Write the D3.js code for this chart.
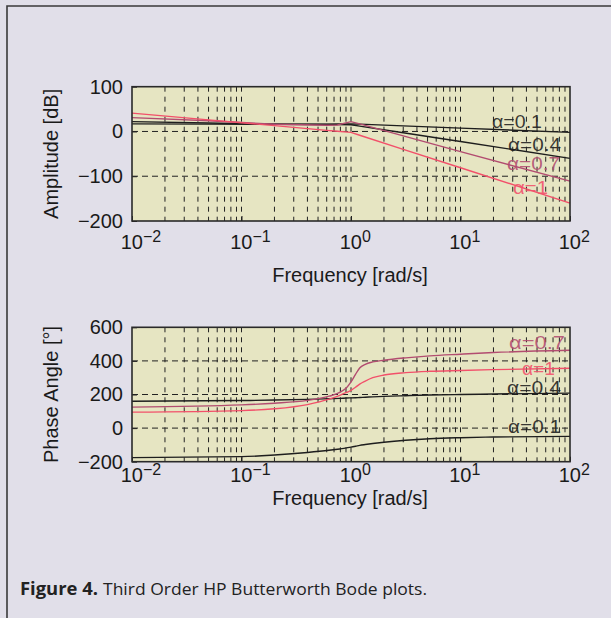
<!DOCTYPE html>
<html><head><meta charset="utf-8">
<script src="https://cdn.jsdelivr.net/npm/d3@7"></script>
<style>
html,body{margin:0;padding:0;background:#e1dfe9;}
svg{display:block;}
text{font-family:"Liberation Sans",Arial,Helvetica,sans-serif;fill:#1a1a1a;}
</style></head>
<body>
<svg id="chart" width="611" height="618"></svg>
<script>
// ---------- data ----------
const seriesNames = ["α=0.1", "α=0.4", "α=0.7", "α=1"];
const seriesColors = ["#1e1e1e", "#1e1e1e", "#b24c70", "#f2506a"];

// amplitude (dB)
const ampFreq = [0.01, 0.05, 0.2, 0.6, 0.75, 1, 1.2, 3, 10, 100];
const amp01 = [17, 16.5, 16, 16.5, 16.8, 17, 16.3, 12.5, 7.5, -2];
const amp04 = [22, 19, 16, 15.5, 15.3, 15, 12, -3, -22.5, -60];
const amp07 = [31, 24, 16, 14, 14.5, 22, 16.8, -10, -45, -111];
const amp10 = [41, 26, 13, 2.5, 0.5, -2, -8.5, -40, -81, -160];

// phase (degrees)
const phaseFreq = [0.01, 0.1, 0.2, 0.4, 0.63, 0.79, 0.91, 1, 1.1, 1.2, 1.35, 1.58, 2, 3.16, 5.25, 10, 20, 100];
const ph01 = [-176, -170, -160, -145, -132, -124, -118, -113, -108, -103, -98, -92, -84, -72, -63, -57, -53, -49];
const ph04 = [160, 164, 167, 171, 175, 177, 179, 180, 181, 182, 184, 186, 189, 193, 197, 200, 203, 208];
const ph07 = [125, 138, 148, 165, 190, 212, 240, 275, 320, 358, 380, 394, 404, 418, 430, 440, 450, 463];
const ph10 = [95, 104, 115, 140, 172, 195, 212, 225, 243, 262, 280, 300, 316, 330, 338, 343, 348, 356];

// ticks
const xTickExp = [-2, -1, 0, 1, 2];
const ampTicks = [100, 0, -100, -200];
const phaseTicks = [600, 400, 200, 0, -200];

// ---------- layout ----------
const svg = d3.select("#chart");
const L = 132, R = 570;
const panels = [
  {top: 86.7, bottom: 221, domain: [-200, 100], ticks: ampTicks, freq: ampFreq,
   vals: [amp01, amp04, amp07, amp10], ylabel: "Amplitude [dB]", curve: d3.curveLinear,
   tickY: 28, titleY: 61,
   labels: [{i:0,x:492,y:128,w:50},{i:1,x:508,y:151,w:53},{i:2,x:507,y:170,w:53},{i:3,x:513,y:193.5,w:35}]},
  {top: 327.3, bottom: 461.7, domain: [-200, 600], ticks: phaseTicks, freq: phaseFreq,
   vals: [ph01, ph04, ph07, ph10], ylabel: "Phase Angle [°]", curve: d3.curveMonotoneX,
   tickY: 20, titleY: 43,
   labels: [{i:2,x:509,y:349,w:56},{i:3,x:522,y:375,w:33},{i:1,x:507,y:393.5,w:54},{i:0,x:508,y:432.5,w:53}]}
];

// outer frame
svg.append("path").attr("d", "M7,630 L7,6 L620,6").attr("fill", "none")
  .attr("stroke", "#3a3a3a").attr("stroke-width", 1.6);

const x = d3.scaleLog().domain([0.01, 100]).range([L, R]);
const minorVals = [];
for (let e = -2; e < 2; e++) for (let m = 1; m <= 9; m++) {
  const v = m * Math.pow(10, e);
  if (v > 0.01) minorVals.push(v);
}

panels.forEach(p => {
  const y = d3.scaleLinear().domain(p.domain).range([p.bottom, p.top]);
  const g = svg.append("g");
  g.append("rect").attr("x", L).attr("y", p.top).attr("width", R - L).attr("height", p.bottom - p.top)
    .attr("fill", "#e6e5c2");
  // vertical grid
  g.selectAll("line.vg").data(minorVals.filter(v => v < 100)).enter().append("line")
    .attr("x1", d => x(d)).attr("x2", d => x(d)).attr("y1", p.top).attr("y2", p.bottom)
    .attr("stroke", "#222").attr("stroke-width", 1).attr("stroke-dasharray", "5,5");
  // horizontal grid
  g.selectAll("line.hg").data(p.ticks.filter(t => t !== p.domain[0] && t !== p.domain[1])).enter().append("line")
    .attr("x1", L).attr("x2", R).attr("y1", d => y(d)).attr("y2", d => y(d))
    .attr("stroke", "#222").attr("stroke-width", 1).attr("stroke-dasharray", "6,4");
  // y axis
  const ya = g.append("g").attr("transform", `translate(${L},0)`)
    .call(d3.axisLeft(y).tickValues(p.ticks).tickSizeInner(-5).tickSizeOuter(0).tickPadding(9));
  ya.select(".domain").remove();
  ya.selectAll("line").attr("stroke", "#222");
  ya.selectAll("text").attr("font-size", 20).attr("fill", "#1a1a1a")
    .style("font-family", '"Liberation Sans",Arial,sans-serif');
  // x axis ticks (inside)
  const xa = g.append("g").attr("transform", `translate(0,${p.bottom})`)
    .call(d3.axisBottom(x).tickValues(xTickExp.map(e => Math.pow(10, e))).tickSizeInner(-5).tickSizeOuter(0).tickFormat(""));
  xa.select(".domain").remove();
  xa.selectAll("line").attr("stroke", "#222");
  // x tick labels with superscripts
  xTickExp.forEach(e => {
    g.append("text").attr("x", x(Math.pow(10, e)) + 11).attr("y", p.bottom + p.tickY)
      .attr("font-size", 20).attr("text-anchor", "end").text("10");
    g.append("text").attr("x", x(Math.pow(10, e)) + 11).attr("y", p.bottom + p.tickY - 7)
      .attr("font-size", 16).attr("text-anchor", "start")
      .text(e < 0 ? "\u2212" + Math.abs(e) : String(e));
  });
  // axis titles
  g.append("text").attr("x", 350).attr("y", p.bottom + p.titleY).attr("text-anchor", "middle")
    .attr("font-size", 20).text("Frequency [rad/s]");
  g.append("text").attr("transform", `translate(57.5,${(p.top + p.bottom) / 2}) rotate(-90)`)
    .attr("text-anchor", "middle").attr("font-size", 20).text(p.ylabel);
  // lines
  const line = d3.line().x((d, i) => x(p.freq[i])).y(d => y(d)).curve(p.curve);
  p.vals.forEach((vals, k) => {
    g.append("path").datum(vals).attr("d", line).attr("fill", "none")
      .attr("stroke", seriesColors[k]).attr("stroke-width", 1.4);
  });
  // labels
  p.labels.forEach(lb => {
    g.append("text").attr("x", lb.x).attr("y", lb.y).attr("font-size", 18)
      .attr("textLength", lb.w).attr("lengthAdjust", "spacingAndGlyphs")
      .style("fill", seriesColors[lb.i]).attr("fill-opacity", 0.88).text(seriesNames[lb.i]);
  });
  // frame
  g.append("rect").attr("x", L).attr("y", p.top).attr("width", R - L).attr("height", p.bottom - p.top)
    .attr("fill", "none").attr("stroke", "#2a2a2a").attr("stroke-width", 1.6);
});

// caption
svg.append("text").attr("x", 20).attr("y", 595).attr("font-size", 17).attr("font-weight", "bold")
  .attr("textLength", 78).attr("lengthAdjust", "spacingAndGlyphs")
  .style("font-family", '"Open Sans","Noto Sans",sans-serif').style("fill", "#222").text("Figure 4.");
svg.append("text").attr("x", 103).attr("y", 595).attr("font-size", 17)
  .attr("textLength", 324).attr("lengthAdjust", "spacingAndGlyphs")
  .style("font-family", '"Open Sans","Noto Sans",sans-serif').style("fill", "#222")
  .text("Third Order HP Butterworth Bode plots.");
</script>
</body></html>
